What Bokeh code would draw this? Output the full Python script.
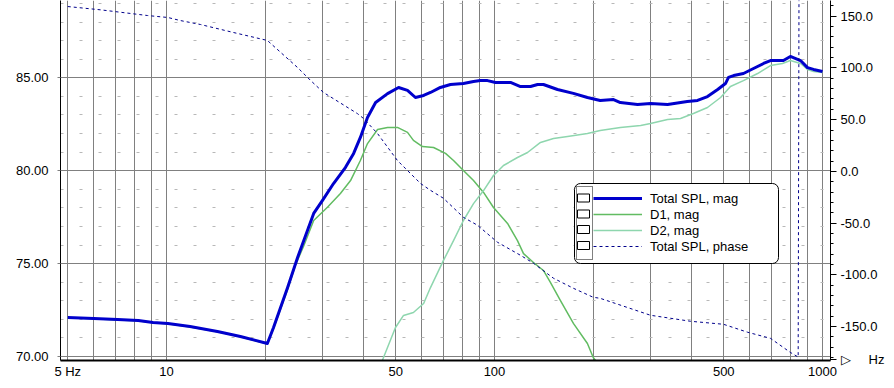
from bokeh.plotting import figure
from bokeh.models import (Range1d, LinearAxis, FixedTicker, NumeralTickFormatter,
                          BoxAnnotation, Legend, LegendItem)
from bokeh.embed import file_html
from bokeh.resources import INLINE

FONT = "Liberation Sans"

# ---------------- data ----------------
freq_total = [5.0, 6.0, 7.1, 8.2, 9.1, 10.1, 11.8, 14.3, 16.8, 20.3, 21.2, 23.4, 25.1, 26.9, 28.1,
              29.9, 32.3, 35.1, 37.2, 39.0, 41.0, 43.4, 47.2, 51.0, 54.3, 57.4, 60.8, 63.8, 68.4, 73.4,
              80.4, 86.3, 90.6, 95.2, 100.7, 111.9, 120, 128.8, 135.3, 141, 155.6, 174, 192, 210, 230.6,
              242, 273, 299, 337, 387, 416, 446, 479, 506, 517, 536, 574, 616, 661, 694,
              760, 798, 857, 900, 939, 1000]
spl_total = [72.10, 72.05, 71.99, 71.94, 71.83, 71.78, 71.61, 71.35, 71.08, 70.70, 71.56, 73.71, 75.33, 76.78, 77.70,
             78.40, 79.31, 80.17, 80.93, 81.79, 82.86, 83.67, 84.15, 84.48, 84.32, 83.94, 84.05, 84.21, 84.48, 84.64,
             84.69, 84.80, 84.85, 84.85, 84.75, 84.75, 84.53, 84.53, 84.64, 84.64, 84.37, 84.16, 83.94, 83.78, 83.83,
             83.67, 83.56, 83.62, 83.56, 83.72, 83.78, 83.99, 84.37, 84.69, 85.02, 85.12, 85.23, 85.50, 85.77, 85.93,
             85.93, 86.15, 85.93, 85.55, 85.45, 85.34]

freq_d1 = [5.0, 6.0, 7.1, 8.2, 9.1, 10.1, 11.8, 14.3, 16.8, 20.3, 21.2, 23.4, 24.7, 26.2, 28.1,
           30.9, 33.9, 36.4, 39.0, 41.0, 44.0, 47.2, 50.6, 54.3, 56.6, 60.3, 65.2, 70.9, 75.0, 80.4,
           86.3, 92.6, 99.3, 109.6, 117.5, 122.6, 131.5, 141, 148.2, 158.9, 174, 192, 200, 226]
spl_d1 = [72.08, 72.03, 71.97, 71.92, 71.81, 71.76, 71.59, 71.33, 71.06, 70.68, 71.51, 73.61, 74.90, 75.95, 77.32,
          78.02, 78.77, 79.47, 80.55, 81.46, 82.22, 82.33, 82.33, 82.06, 81.63, 81.30, 81.25, 80.93, 80.55, 80.01,
          79.47, 78.83, 78.02, 77.16, 76.24, 75.54, 75.06, 74.63, 73.98, 73.01, 71.78, 70.70, 69.95, 68.70]

freq_d2 = [40.0, 45.5, 49.9, 52.8, 56.6, 60.8, 63.8, 69.9, 75.0, 80.4, 86.3, 92.6, 99.3, 106.5, 117.5,
           126.1, 138.1, 151.3, 167, 192, 210, 242, 279, 299, 337, 369, 404, 446, 489, 524,
           574, 634, 694, 755, 798, 857, 900, 939, 1000]
spl_d2 = [67.30, 69.78, 71.56, 72.21, 72.37, 72.85, 73.71, 75.17, 76.24, 77.32, 78.23, 78.93, 79.74, 80.28, 80.71,
          80.98, 81.52, 81.73, 81.84, 82.00, 82.16, 82.33, 82.43, 82.54, 82.76, 82.81, 83.08, 83.40, 83.94, 84.53,
          84.85, 85.23, 85.66, 85.77, 85.93, 85.77, 85.45, 85.34, 85.29]

freq_phase = [5.0, 6.3, 8.75, 10.1, 11.0, 12.7, 16.0, 20.3, 25.1, 27.5, 30.1, 38.2, 39.9, 44.0, 50.6,
              59.5, 63.8, 69.9, 80.4, 88.8, 102.1, 120, 131.5, 151.3, 174, 200, 210, 299, 396, 499,
              591, 694, 798, 843, 848, 1000]
phase_total = [159.4, 156.2, 150.7, 148.8, 145.9, 142.0, 134.3, 126.6, 100.4, 87.9, 76.3, 55.9, 51.1, 36.6, 10.5,
               -11.7, -18.3, -26.0, -44.4, -52.1, -68.5, -81.1, -88.8, -103.3, -113.0, -121.7, -122.7, -139.1, -144.9, -147.8,
               -155.5, -161.4, -175.0, -179.5, 179.5, 171.0]

x_label_ticks = [5, 10, 50, 100, 500, 1000]
x_label_text = ["5 Hz", "10", "50", "100", "500", "1000"]
x_grid_ticks = [5, 6, 7, 8, 9, 10, 20, 30, 40, 50, 60, 70, 80, 90,
                100, 200, 300, 400, 500, 600, 700, 800, 900, 1000]
y_left_ticks = [70, 75, 80, 85]
y_left_minor = list(range(70, 90))
phase_ticks = [-150, -100, -50, 0, 50, 100, 150]
phase_minor = list(range(-180, 170, 10))
x_unit_text = "\u25b7\u00a0\u00a0\u00a0\u00a0\u00a0Hz"
legend_labels = ["Total SPL, mag", "D1, mag", "D2, mag", "Total SPL, phase"]


# reference-pixel -> data helpers (layout only)
def px_f(x):
    return 10 ** (1 + (x - 166) / 328.0)


def py_db(y):
    return 70 + (356 - y) / 18.58


def py_ph(y):
    return (170.9 - y) / 1.0343


unit_pos = py_ph(358.5)

p = figure(width=894, height=388, x_axis_type="log",
           x_range=Range1d(px_f(60), px_f(830)),
           y_range=Range1d(py_db(360), py_db(0)),
           output_backend="svg", toolbar_location=None,
           min_border_left=60, min_border_right=64, min_border_top=0, min_border_bottom=28,
           outline_line_color=None, background_fill_color="white", border_fill_color="white")

p.extra_y_ranges = {"phase": Range1d(py_ph(360), py_ph(0))}

# grids
p.xgrid.ticker = FixedTicker(ticks=x_grid_ticks)
p.xgrid.grid_line_color = "#808080"
p.xgrid.grid_line_width = 1
yt = FixedTicker(ticks=y_left_ticks, minor_ticks=y_left_minor)
p.ygrid.ticker = yt
p.ygrid.grid_line_color = "#808080"
p.ygrid.minor_grid_line_color = "#b8b8b8"
p.ygrid.minor_grid_line_dash = "3 16"

# x axis
xa = p.below[0]
xa.ticker = FixedTicker(ticks=x_label_ticks)
xa.formatter = NumeralTickFormatter(format="0")
xa.major_label_overrides = {t: s for t, s in zip(x_label_ticks, x_label_text)}
xa.major_tick_out = 0
xa.major_tick_in = 0
xa.minor_tick_out = 0
xa.minor_tick_in = 0
xa.axis_line_color = "black"
xa.axis_line_width = 2
xa.major_label_standoff = 3
xa.major_label_text_font = FONT
xa.major_label_text_font_size = "13px"
xa.major_label_text_color = "black"

# left axis
ya = p.left[0]
ya.ticker = yt
ya.formatter = NumeralTickFormatter(format="0.00")
ya.major_tick_out = 3
ya.major_tick_in = 0
ya.minor_tick_out = 0
ya.minor_tick_in = 0
ya.major_tick_line_color = "#808080"
ya.axis_line_color = "black"
ya.major_label_standoff = 9
ya.major_label_text_font = FONT
ya.major_label_text_font_size = "13px"
ya.major_label_text_color = "black"

# right axis (phase); its lowest tick carries the x-axis arrow head and unit
ra = LinearAxis(y_range_name="phase",
                ticker=FixedTicker(ticks=phase_ticks + [unit_pos], minor_ticks=phase_minor),
                formatter=NumeralTickFormatter(format="0.0"))
ra.major_label_overrides = {unit_pos: x_unit_text}
ra.major_tick_out = 6
ra.major_tick_in = 0
ra.minor_tick_out = 3
ra.minor_tick_in = 0
ra.axis_line_color = "black"
ra.major_label_standoff = 4
ra.major_label_text_font = FONT
ra.major_label_text_font_size = "13px"
ra.major_label_text_color = "black"
p.add_layout(ra, "right")

# curves
r_d1 = p.line(freq_d1, spl_d1, line_color="#62BC62", line_width=1.5, line_join="round")
r_d2 = p.line(freq_d2, spl_d2, line_color="#8ED6AE", line_width=1.5, line_join="round")
r_tot = p.line(freq_total, spl_total, line_color="#0000CC", line_width=3, line_join="round")
r_ph = p.line(freq_phase, phase_total, y_range_name="phase", line_color="#00008B",
              line_width=1, line_dash="3 3")

# legend frame
p.add_layout(BoxAnnotation(left=px_f(574), right=px_f(778), top=py_db(183), bottom=py_db(263),
                           fill_color="white", fill_alpha=1, line_color="black", line_alpha=1,
                           line_width=1, border_radius=6))
p.add_layout(BoxAnnotation(left=px_f(576), right=px_f(592), top=py_db(186), bottom=py_db(259),
                           fill_alpha=0, line_color="black", line_alpha=1, line_width=1,
                           line_dash="1 1"))
for cy in [197.5, 213.5, 229.0, 245.0]:
    p.add_layout(BoxAnnotation(left=px_f(577), right=px_f(589), top=py_db(cy - 4), bottom=py_db(cy + 4),
                               fill_color="white", fill_alpha=1, line_color="black", line_alpha=1,
                               line_width=1))

legend = Legend(items=[LegendItem(label=legend_labels[0], renderers=[r_tot]),
                       LegendItem(label=legend_labels[1], renderers=[r_d1]),
                       LegendItem(label=legend_labels[2], renderers=[r_d2]),
                       LegendItem(label=legend_labels[3], renderers=[r_ph])],
                location=(533, 106), orientation="vertical",
                padding=0, margin=0, spacing=0,
                glyph_width=49, glyph_height=16, label_height=16, label_standoff=8,
                label_text_font=FONT, label_text_font_size="13px", label_text_color="black",
                background_fill_alpha=0, border_line_alpha=0)
p.add_layout(legend)

open("out.html", "w").write(file_html(p, INLINE))
